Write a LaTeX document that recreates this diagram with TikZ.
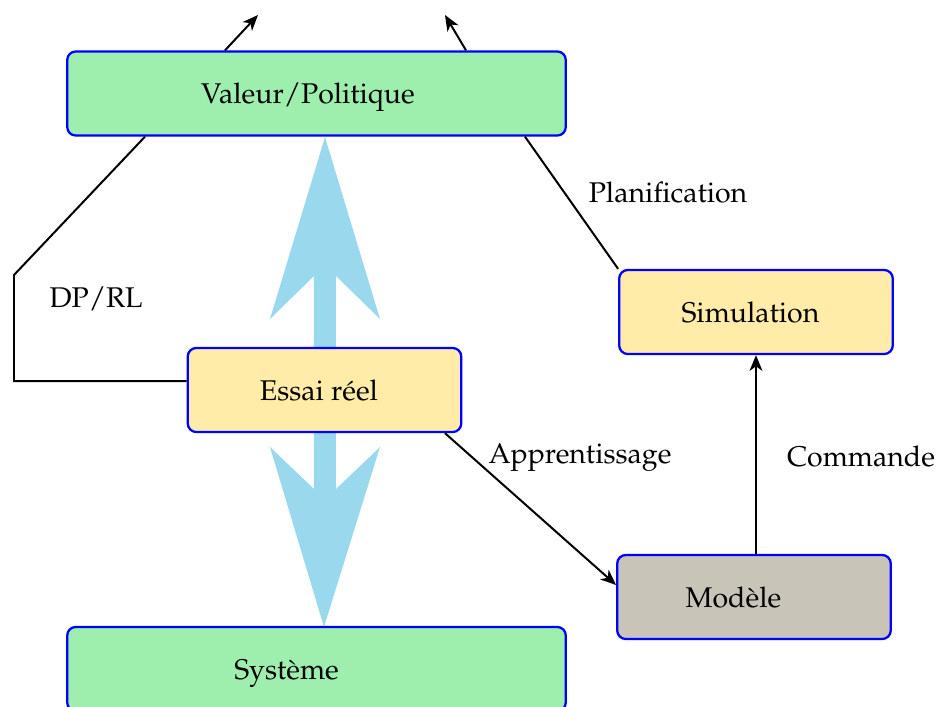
\documentclass[tikz,border=0pt]{standalone}
\usepackage[T1]{fontenc}
\usepackage{mathpazo}
\usetikzlibrary{arrows.meta,calc}
\definecolor{boxgreen}{RGB}{158,238,174}
\definecolor{boxyellow}{RGB}{255,236,168}
\definecolor{boxgray}{RGB}{200,196,184}
\definecolor{bigarrow}{RGB}{154,216,238}
\pgfdeclarelayer{background}
\pgfsetlayers{background,main}
\begin{document}
\begin{tikzpicture}[x=0.351pt,y=-0.351pt,
  box/.style={draw=blue, line width=0.8pt, rounded corners=3pt, minimum height=29.5pt, inner sep=0pt, text height=7.7pt, text depth=0.4pt},
  bigbox/.style={box, fill=boxgreen, minimum width=175pt},
  smallbox/.style={box, minimum width=96pt},
  conn/.style={line width=0.7pt, -{Stealth[length=5.5pt,width=4.5pt,inset=1.6pt]}},
  plainline/.style={line width=0.7pt},
  lbl/.style={inner sep=0pt}]
\useasboundingbox (0,0) rectangle (940,707);
\clip (0,0) rectangle (940,707);

% boxes
\node[bigbox] (val) at (316.5,93.5) {Valeur/Politique\kern6pt};
\node[smallbox, fill=boxyellow] (ess) at (324.5,390) {Essai r\'eel\kern3.9pt};
\node[smallbox, fill=boxyellow] (sim) at (756,312) {Simulation\kern3.9pt};
\node[smallbox, fill=boxgray] (mod) at (754,597) {Mod\`ele\kern14.4pt};
\node[bigbox] (sys) at (316.5,669) {Syst\`eme\kern21pt};

% big blue arrows
\begin{pgfonlayer}{background}
\fill[bigarrow] (325,137) -- (380,319) -- (336,276) -- (336,350) -- (314,350) -- (314,276) -- (270,319) -- cycle;
\fill[bigarrow] (324,627) -- (380,447) -- (336,489) -- (336,430) -- (314,430) -- (314,489) -- (270,447) -- cycle;
\end{pgfonlayer}

% free ends
\coordinate (tl) at (258,15);
\coordinate (tr) at (445,15);

% connectors
\draw[conn] (val.north -| 225,0) -- (tl);
\draw[conn] (val.north -| 466,0) -- (tr);
\draw[plainline] (val.south -| 145,0) -- (14,275) -- (14,381) -- (ess.west |- 0,381);
\draw[plainline] (val.south -| 525,0) -- (sim.north west);
\draw[conn] (ess.south -| 445,0) -- (mod.west |- 0,585);
\draw[conn] (sim.south |- mod.north) -- (sim.south);

% labels
\node[lbl] (dprl) at (96,299) {DP/RL};
\node[lbl] (plan) at (668,192) {Planification};
\node[lbl] (appr) at (580,458) {Apprentissage};
\node[lbl] (comm) at (861,456) {Commande};
\end{tikzpicture}
\end{document}
